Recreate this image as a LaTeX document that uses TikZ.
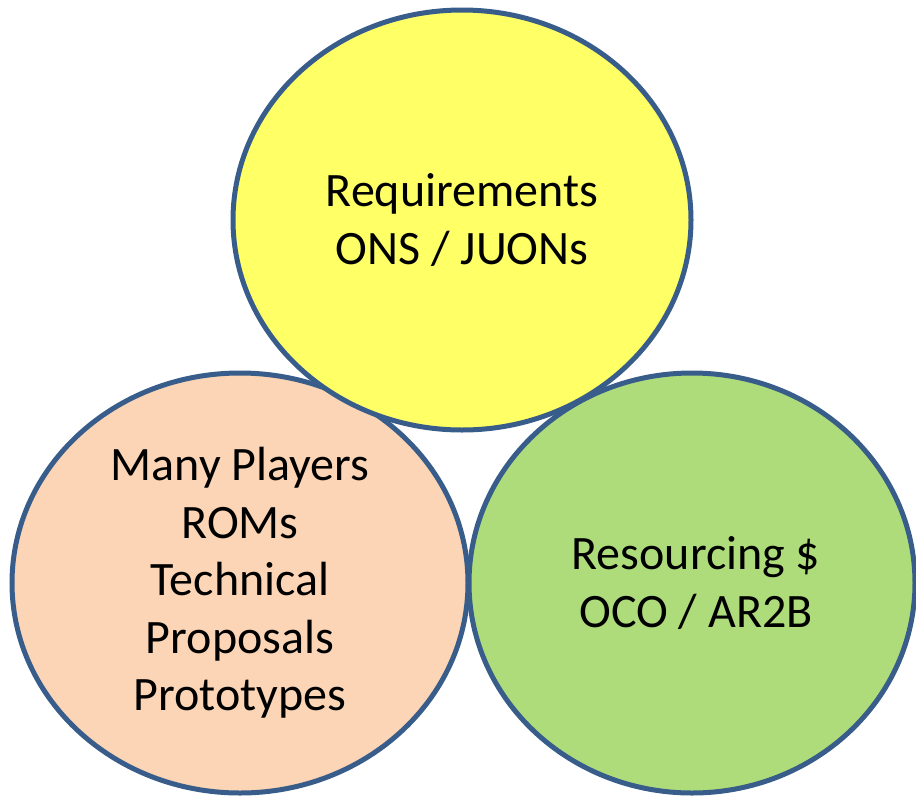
\documentclass[tikz,border=0pt]{standalone}
\usepackage{fontspec}
\setmainfont{Carlito}
\usepackage{tikz}
\usetikzlibrary{shapes.geometric}
\definecolor{rimblue}{HTML}{385D8A}
\definecolor{reqyellow}{HTML}{FFFF66}
\definecolor{playpeach}{HTML}{FBD5B5}
\definecolor{resgreen}{HTML}{AEDC7B}

\begin{document}
\begin{tikzpicture}[x=1pt, y=-1pt, every node/.style={ellipse, draw=rimblue, line width=5pt, inner sep=0pt, outer sep=0pt, align=center, font=\fontsize{48}{57.5}\selectfont}]
\useasboundingbox (0,0) rectangle (916,796);

\node[fill=playpeach, minimum width=456pt, minimum height=420pt] (players) at (240,583) {Many Players\\ROMs\\Technical\\Proposals\\Prototypes};
\node[fill=resgreen, minimum width=446pt, minimum height=420pt] (resourcing) at (692,583) {\hspace*{8pt}Resourcing \$\\\hspace*{8pt}OCO / AR2B};
\node[fill=reqyellow, minimum width=458pt, minimum height=420pt] (reqs) at (462,220) {Requirements\\ONS / JUONs};
\end{tikzpicture}
\end{document}
